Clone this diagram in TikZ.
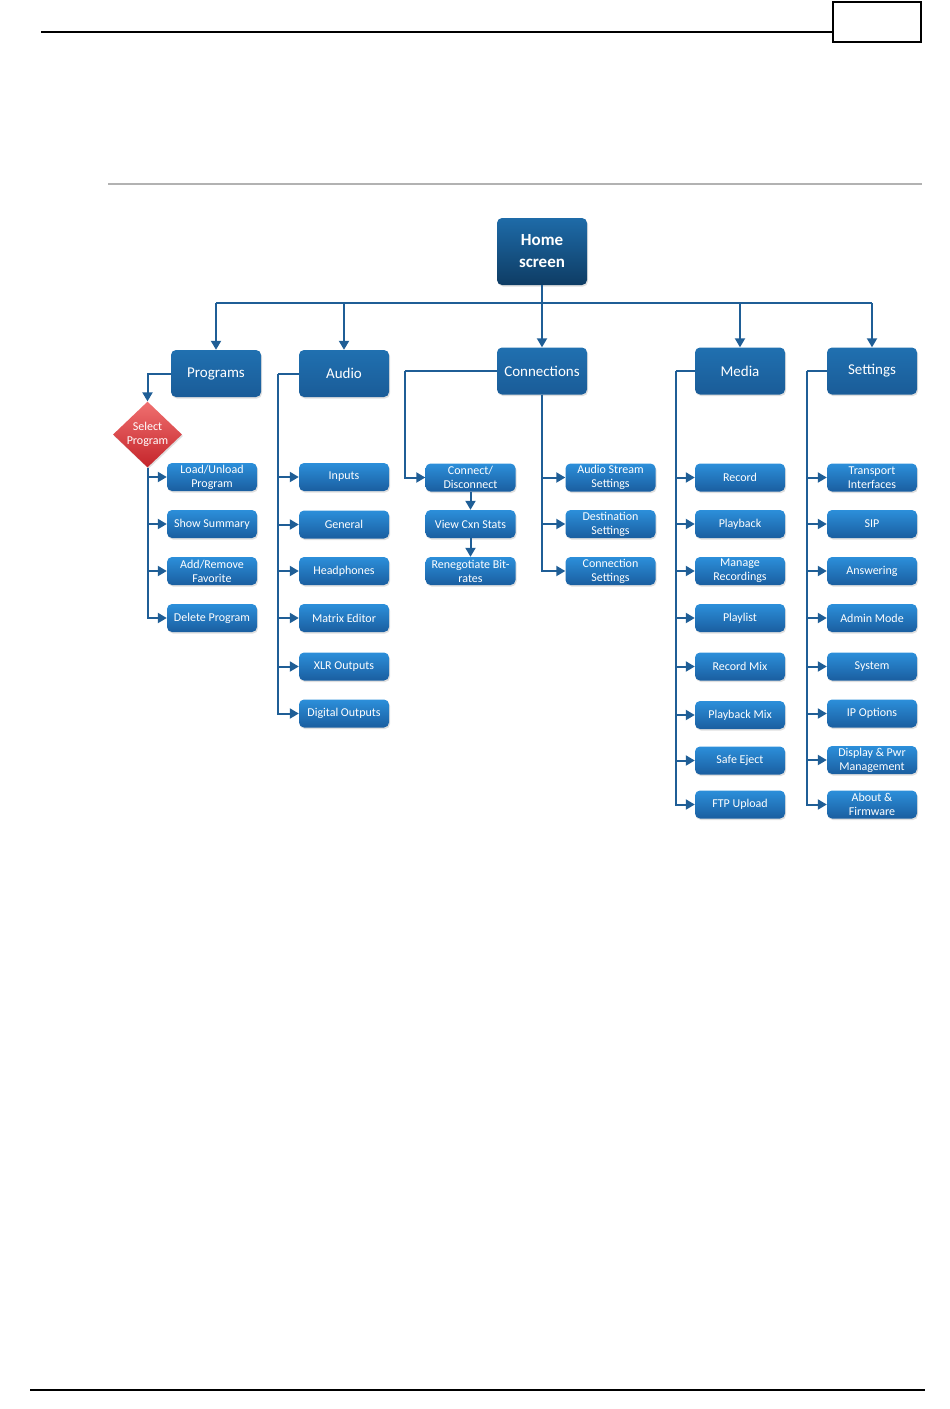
\documentclass[tikz,border=0pt]{standalone}
\usepackage{fontspec}
\setmainfont{Carlito}
\usetikzlibrary{arrows.meta,shapes.geometric,shadows}
\definecolor{lineblue}{HTML}{1F5E96}
\definecolor{smalltop}{HTML}{2C8FDA}
\definecolor{smallbot}{HTML}{1A5EA0}
\definecolor{bigtop}{HTML}{2070B0}
\definecolor{bigbot}{HTML}{1A5C98}
\definecolor{hometop}{HTML}{1E6BA8}
\definecolor{homebot}{HTML}{0E3C64}
\definecolor{redtop}{HTML}{F07070}
\definecolor{redbot}{HTML}{C4242A}
\begin{document}
\begin{tikzpicture}[x=1pt,y=-1pt,
  shadowed/.style={drop shadow={shadow xshift=1pt,shadow yshift=-1.5pt,opacity=0.25}},
  bigbox/.style={shadowed,rounded corners=5pt,minimum width=90pt,minimum height=47pt,inner sep=0pt,
    top color=bigtop,bottom color=bigbot,draw=none,text=white,align=center,
    font=\fontsize{15}{18}\selectfont},
  homebox/.style={shadowed,rounded corners=5pt,minimum width=90pt,minimum height=67pt,inner sep=0pt,
    top color=hometop,bottom color=homebot,draw=none,text=white,align=center,
    font=\fontsize{17}{22}\selectfont\bfseries},
  smallbox/.style={shadowed,rounded corners=5pt,minimum width=90pt,minimum height=28pt,inner sep=0pt,
    top color=smalltop,bottom color=smallbot,draw=none,text=white,align=center,
    font=\fontsize{12}{14}\selectfont},
  decision/.style={shadowed,diamond,minimum width=69pt,minimum height=65pt,inner sep=0pt,
    top color=redtop,bottom color=redbot,draw=none,text=white,align=center,
    font=\fontsize{12}{14}\selectfont},
  conn/.style={draw=lineblue,line width=2pt},
  arr/.style={conn,-{Triangle[length=9pt,width=10pt]}}
]
\useasboundingbox (0,0) rectangle (950,1409);
% page furniture
\coordinate (hl1) at (41,32);
\coordinate (hl2) at (833,32);
\draw[line width=1.3pt] (hl1) -- (hl2);
\node[draw,line width=1.2pt,minimum width=88pt,minimum height=40pt,inner sep=0pt] (hbox) at (877,22) {};
\coordinate (gl1) at (108,184);
\coordinate (gl2) at (922,184);
\draw[line width=2pt,color=black!30] (gl1) -- (gl2);
\coordinate (bl1) at (30,1390);
\coordinate (bl2) at (925,1390);
\draw[line width=1.3pt] (bl1) -- (bl2);

% main nodes
\node[homebox] (home) at (542,251.5) {Home\\screen};
\node[bigbox] (programs) at (216,373.5) {Programs};
\node[bigbox] (audio) at (344,373.5) {Audio};
\node[bigbox] (connections) at (542,371) {Connections};
\node[bigbox] (media) at (740,371) {Media};
\node[bigbox] (settings) at (872,371) {Settings};

% programs
\node[decision] (select) at (147.5,434.5) {Select\\Program};
\node[smallbox] (load) at (212,477) {Load/Unload\\Program};
\node[smallbox] (summary) at (212,524) {Show Summary};
\node[smallbox] (fav) at (212,571) {Add/Remove\\Favorite};
\node[smallbox] (delete) at (212,618) {Delete Program};

% audio
\node[smallbox] (inputs) at (344,477) {Inputs};
\node[smallbox] (general) at (344,524.5) {General};
\node[smallbox] (headphones) at (344,571) {Headphones};
\node[smallbox] (matrix) at (344,618) {Matrix Editor};
\node[smallbox] (xlr) at (344,666.5) {XLR Outputs};
\node[smallbox] (digital) at (344,713.5) {Digital Outputs};

% connections
\node[smallbox] (connect) at (470.5,477.5) {Connect/\\Disconnect};
\node[smallbox] (view) at (470.5,524) {View Cxn Stats};
\node[smallbox] (reneg) at (470.5,571) {Renegotiate Bit-\\rates};
\node[smallbox] (stream) at (610.5,477.5) {Audio Stream\\Settings};
\node[smallbox] (dest) at (610.5,524) {Destination\\Settings};
\node[smallbox] (cset) at (610.5,571) {Connection\\Settings};

% media
\node[smallbox] (record) at (740,477.5) {Record};
\node[smallbox] (playback) at (740,524) {Playback};
\node[smallbox] (manage) at (740,571) {Manage\\Recordings};
\node[smallbox] (playlist) at (740,618) {Playlist};
\node[smallbox] (recmix) at (740,666.5) {Record Mix};
\node[smallbox] (playmix) at (740,715) {Playback Mix};
\node[smallbox] (eject) at (740,760.5) {Safe Eject};
\node[smallbox] (ftp) at (740,804.5) {FTP Upload};

% settings
\node[smallbox] (transport) at (872,477.5) {Transport\\Interfaces};
\node[smallbox] (sip) at (872,524) {SIP};
\node[smallbox] (answer) at (872,571) {Answering};
\node[smallbox] (admin) at (872,618) {Admin Mode};
\node[smallbox] (system) at (872,666.5) {System};
\node[smallbox] (ipopt) at (872,713.5) {IP Options};
\node[smallbox] (display) at (872,760) {Display \& Pwr\\Management};
\node[smallbox] (about) at (872,804.5) {About \&\\Firmware};

% bus
\coordinate (busL) at (216,303);
\coordinate (busR) at (872,303);
\draw[conn] (busL) -- (busR);
\draw[arr] (home.south) -- (connections.north);
\draw[arr] (programs.north |- busL) -- (programs.north);
\draw[arr] (audio.north |- busL) -- (audio.north);
\draw[arr] (media.north |- busL) -- (media.north);
\draw[arr] (settings.north |- busL) -- (settings.north);

% programs branch
\draw[arr] (programs.west) -| (select.north);
\foreach \n in {load,summary,fav,delete}
  \draw[arr] (select.south) |- (\n.west);

% audio branch
\coordinate (atr) at (278,373.5);
\draw[conn] (audio.west) -- (atr);
\foreach \n in {inputs,general,headphones,matrix,xlr,digital}
  \draw[arr] (atr) |- (\n.west);

% connections branch
\coordinate (ctr) at (405,371);
\draw[conn] (connections.west) -- (ctr);
\draw[arr] (ctr) |- (connect.west);
\draw[arr] (connect.south) -- (view.north);
\draw[arr] (view.south) -- (reneg.north);
\foreach \n in {stream,dest,cset}
  \draw[arr] (connections.south) |- (\n.west);

% media branch
\coordinate (mtr) at (676,371);
\draw[conn] (media.west) -- (mtr);
\foreach \n in {record,playback,manage,playlist,recmix,playmix,eject,ftp}
  \draw[arr] (mtr) |- (\n.west);

% settings branch
\coordinate (str) at (807,371);
\draw[conn] (settings.west) -- (str);
\foreach \n in {transport,sip,answer,admin,system,ipopt,display,about}
  \draw[arr] (str) |- (\n.west);
\end{tikzpicture}
\end{document}
